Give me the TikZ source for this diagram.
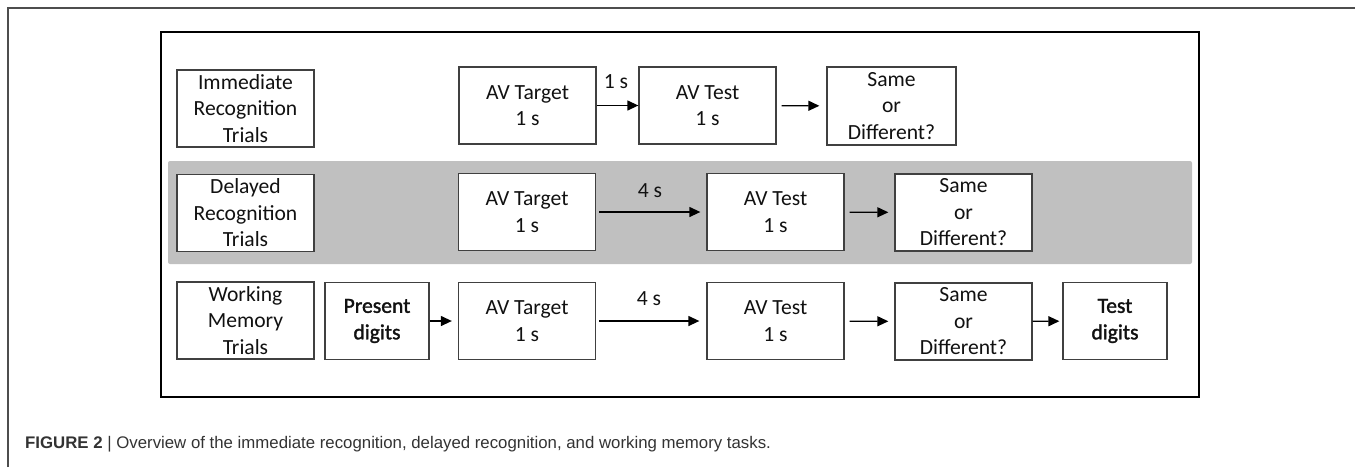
\documentclass[tikz,border=0pt]{standalone}
\usepackage{fontspec}
\setmainfont{Carlito}
\newfontfamily\capfont{Liberation Sans}
\newfontfamily\heavyfont[FakeBold=1.5]{Carlito}
\usetikzlibrary{arrows.meta}
\definecolor{bandgray}{HTML}{C0C0C0}
\definecolor{boxline}{HTML}{404040}
\definecolor{txt}{HTML}{111111}
\definecolor{framegray}{HTML}{4D4D4D}
\definecolor{captext}{HTML}{333333}
\newcommand{\boxfont}{\fontsize{21.6}{26.5}\selectfont}
\begin{document}
\begin{tikzpicture}[x=1pt,y=-1pt,
  box/.style={draw=boxline, line width=1.3pt, fill=white, inner sep=0pt,
    minimum width=137pt, minimum height=77pt, align=center,
    font=\boxfont, text=txt},
  narrowbox/.style={box, minimum width=104pt, font=\boxfont\heavyfont},
  sdbox/.style={box, minimum width=129pt, minimum height=78pt},
  arr/.style={-{Triangle[length=11pt,width=10pt]}, line width=1.3pt, draw=black},
  lbl/.style={font=\boxfont, text=txt, inner sep=0pt}]
\useasboundingbox (0,0) rectangle (1355,467);
% outer figure frame
\draw[framegray, line width=1.5pt] (8,467) -- (8,8) -- (1355,8);
% inner frame
\draw[line width=2.4pt] (161,32) rectangle (1199,397);
% grey band
\fill[bandgray, rounded corners=2pt] (168,161) rectangle (1192,264);
% row 1
\node[box] (imm) at (245.5,108.5) {Immediate\\Recognition\\Trials};
\node[box] (t1) at (527.5,105.5) {AV Target\\1 s};
\node[box] (s1) at (707.5,105.5) {AV Test\\1 s};
\node[sdbox] (d1) at (891.5,106) {Same\\or\\Different?};
\draw[arr] (t1) -- (s1);
\node[lbl] (l1) at (616,81.5) {1 s};
\draw[arr, shorten <=5pt, shorten >=7pt] (s1) -- (d1);
% row 2
\node[box] (del) at (245.5,213) {Delayed\\Recognition\\Trials};
\node[box] (t2) at (527,212) {AV Target\\1 s};
\node[box] (s2) at (775.5,212) {AV Test\\1 s};
\node[box] (d2) at (963.5,212.5) {Same\\or\\Different?};
\draw[arr, shorten <=3pt, shorten >=6pt] (t2) -- (s2);
\node[lbl] (l2) at (650,191) {4 s};
\draw[arr, shorten <=5pt, shorten >=6pt] (s2) -- (d2);
% row 3
\node[box] (wm) at (245.5,320.5) {Working\\Memory\\Trials};
\node[narrowbox] (pd) at (377,321) {Present\\digits};
\node[box] (t3) at (527,321) {AV Target\\1 s};
\node[box] (s3) at (775.5,321) {AV Test\\1 s};
\node[box] (d3) at (963.5,321.5) {Same\\or\\Different?};
\node[narrowbox] (td) at (1115,321) {Test\\digits};
\draw[arr, shorten >=6pt] (pd) -- (t3);
\draw[arr, shorten <=3pt, shorten >=7pt] (t3) -- (s3);
\node[lbl] (l3) at (649,298.5) {4 s};
\draw[arr, shorten <=5pt, shorten >=6pt] (s3) -- (d3);
\draw[arr, shorten >=3pt] (d3) -- (td);
% caption
\node[anchor=base west, inner sep=0pt, text=captext,
  font=\capfont\fontsize{16.8}{20}\selectfont] (cap) at (25,448)
  {\textbf{FIGURE 2} | Overview of the immediate recognition, delayed recognition, and working memory tasks.};
\end{tikzpicture}
\end{document}
